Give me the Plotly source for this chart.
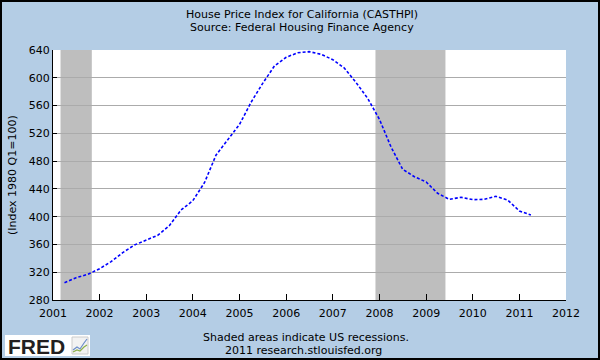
import plotly.graph_objects as go

# ---- data ----
dates = [
    "2001-04-01", "2001-07-01", "2001-10-01", "2002-01-01", "2002-04-01", "2002-07-01",
    "2002-10-01", "2003-01-01", "2003-04-01", "2003-07-01", "2003-10-01", "2004-01-01",
    "2004-04-01", "2004-07-01", "2004-10-01", "2005-01-01", "2005-04-01", "2005-07-01",
    "2005-10-01", "2006-01-01", "2006-04-01", "2006-07-01", "2006-10-01", "2007-01-01",
    "2007-04-01", "2007-07-01", "2007-10-01", "2008-01-01", "2008-04-01", "2008-07-01",
    "2008-10-01", "2009-01-01", "2009-04-01", "2009-07-01", "2009-10-01", "2010-01-01",
    "2010-04-01", "2010-07-01", "2010-10-01", "2011-01-01", "2011-04-01",
]
hpi = [
    304.9, 312.1, 317.0, 325.1, 335.2, 348.2, 359.2, 366.4, 373.2, 387.0, 409.6,
    423.0, 448.9, 488.8, 510.4, 533.0, 564.7, 592.0, 617.0, 629.5, 636.0, 637.6,
    633.8, 626.1, 614.1, 593.4, 570.4, 540.2, 500.3, 468.2, 457.6, 449.9, 433.6,
    425.0, 427.9, 424.5, 425.0, 429.3, 424.0, 408.2, 402.4,
]
recessions = [("2001-03-01", "2001-11-01"), ("2007-12-01", "2009-06-01")]
year_ticks = [f"{y}-01-01" for y in range(2001, 2013)]
year_labels = [str(y) for y in range(2001, 2013)]
y_ticks = [280, 320, 360, 400, 440, 480, 520, 560, 600, 640]

# ---- layout geometry ----
W, H = 600, 360
L, R, T, B = 53, 34, 50, 60
PW, PH = W - L - R, H - T - B


def px(x):
    return (x - L) / PW


def py(y):
    return (H - B - y) / PH


FONT = "DejaVu Sans"
BG = "#B4CDE5"

fig = go.Figure()
fig.add_trace(go.Scatter(
    x=dates, y=hpi, mode="lines",
    line=dict(color="#0000FF", width=1.6, dash="3px,2px"),
    hoverinfo="skip", showlegend=False,
))

shapes = []
for a, b in recessions:
    shapes.append(dict(type="rect", xref="x", yref="paper", x0=a, x1=b, y0=0, y1=1,
                       fillcolor="#BEBEBE", line=dict(width=0), layer="between"))

# FRED logo box
shapes.append(dict(type="rect", xref="paper", yref="paper",
                   x0=px(5), x1=px(90), y0=py(356), y1=py(335),
                   fillcolor="white", line=dict(width=0), layer="above"))
shapes.append(dict(type="rect", xref="paper", yref="paper",
                   x0=px(72), x1=px(88), y0=py(354), y1=py(337),
                   fillcolor="#F2F2F2", line=dict(color="#CCCCCC", width=1), layer="above"))
icon_blue = [(73, 350), (77, 347), (80, 349), (84, 343), (87, 339)]
icon_green = [(73, 352), (77, 350), (80, 351), (84, 347), (87, 345)]
for pts, col in ((icon_blue, "#6C8EC9"), (icon_green, "#8DB04A")):
    path = "M " + " L ".join(f"{px(x):.5f},{py(y):.5f}" for x, y in pts)
    shapes.append(dict(type="path", xref="paper", yref="paper", path=path,
                       line=dict(color=col, width=1.2), layer="above"))

# outer border
shapes.append(dict(type="rect", xref="paper", yref="paper",
                   x0=px(1), x1=px(599), y0=py(359), y1=py(1),
                   line=dict(color="black", width=2), fillcolor="rgba(0,0,0,0)", layer="above"))

annotations = [
    dict(text="House Price Index for California (CASTHPI)", x=px(302), y=py(14),
         xref="paper", yref="paper", showarrow=False, xanchor="center", yanchor="middle",
         font=dict(family=FONT, size=11, color="black")),
    dict(text="Source: Federal Housing Finance Agency", x=px(302), y=py(28),
         xref="paper", yref="paper", showarrow=False, xanchor="center", yanchor="middle",
         font=dict(family=FONT, size=11, color="black")),
    dict(text="(Index 1980 Q1=100)", x=px(12), y=py(175), textangle=-90,
         xref="paper", yref="paper", showarrow=False, xanchor="center", yanchor="middle",
         font=dict(family=FONT, size=11, color="black")),
    dict(text="Shaded areas indicate US recessions.", x=px(306), y=py(337),
         xref="paper", yref="paper", showarrow=False, xanchor="center", yanchor="middle",
         font=dict(family=FONT, size=11, color="black")),
    dict(text="2011 research.stlouisfed.org", x=px(303), y=py(350),
         xref="paper", yref="paper", showarrow=False, xanchor="center", yanchor="middle",
         font=dict(family=FONT, size=11, color="black")),
    dict(text="<b>FRED</b>", x=px(6), y=py(346),
         xref="paper", yref="paper", showarrow=False, xanchor="left", yanchor="middle",
         font=dict(family="Liberation Sans", size=21, color="#231F20")),
]

fig.update_layout(
    width=W, height=H,
    margin=dict(l=L, r=R, t=T, b=B, pad=0),
    paper_bgcolor=BG, plot_bgcolor="white",
    showlegend=False,
    shapes=shapes, annotations=annotations,
    font=dict(family=FONT, size=11, color="black"),
    xaxis=dict(
        type="date", range=["2001-01-01", "2012-01-01"],
        tickmode="array", tickvals=year_ticks, ticktext=year_labels,
        ticks="inside", ticklen=6, tickcolor="black", tickwidth=1,
        showline=True, linecolor="black", linewidth=1,
        showgrid=False, zeroline=False, ticklabelstandoff=3,
        tickfont=dict(family=FONT, size=11, color="black"),
    ),
    yaxis=dict(
        range=[280, 640], tickmode="array", tickvals=y_ticks,
        ticks="inside", ticklen=4, tickcolor="black", tickwidth=1,
        showline=True, linecolor="black", linewidth=1,
        showgrid=True, gridcolor="#ABABAB", gridwidth=1, zeroline=False,
        tickfont=dict(family=FONT, size=11, color="black"),
    ),
)

fig.write_html(
    "out.html",
    config={"displayModeBar": False},
    post_script="document.body.style.margin='0';document.body.style.overflow='hidden';",
)
